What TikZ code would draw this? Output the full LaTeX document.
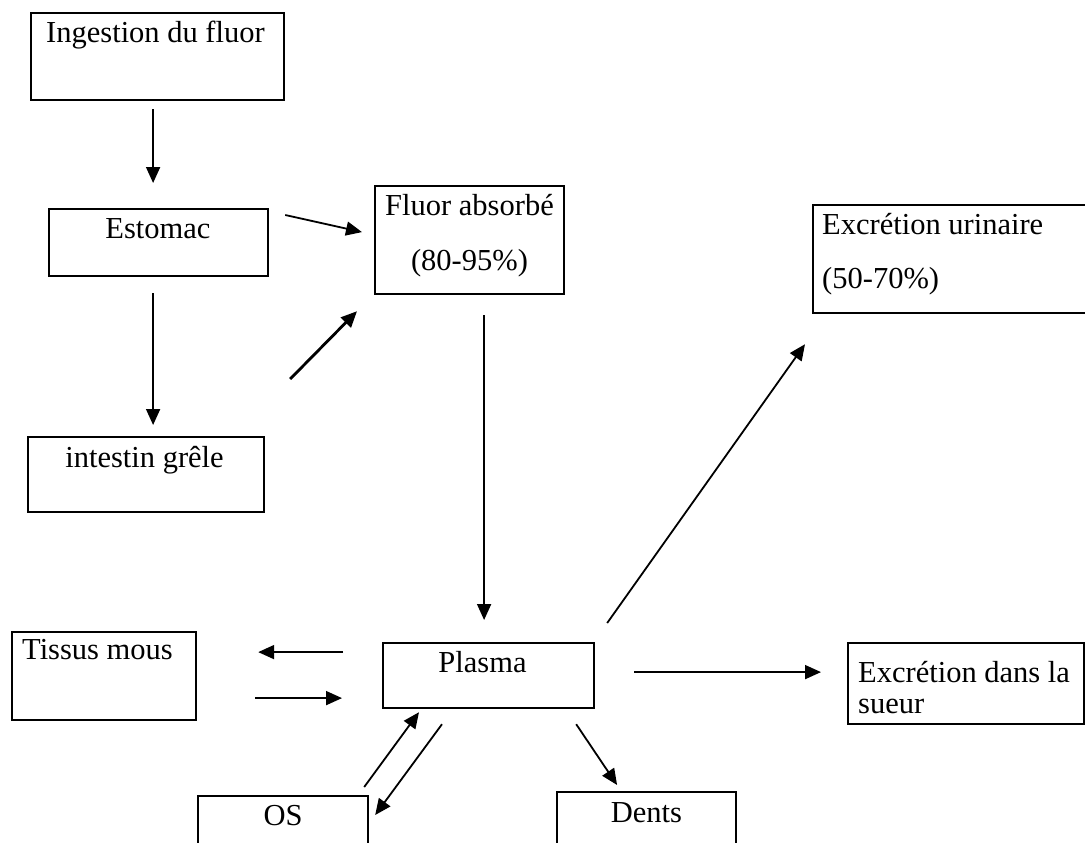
\documentclass[tikz,border=0pt]{standalone}
\usepackage{fontspec}
\setmainfont{Liberation Serif}
\usetikzlibrary{arrows.meta}
\tikzset{
    box/.style={draw, line width=2.2pt, inner sep=0pt, anchor=north west},
    lbl/.style={inner sep=0pt, font=\fontsize{30.5}{36}\selectfont},
    arr/.style={line width=1.8pt, -{Triangle[length=16pt, width=14pt]}},
}
\begin{document}
\begin{tikzpicture}[x=1pt, y=-1pt]
    \useasboundingbox (0, 0) rectangle (1085, 843) ;
    \clip (0, 0) rectangle (1085, 843) ;
    \node[box, minimum width=253pt, minimum height=87pt] (ing) at (30, 12) {} ;
    \node[box, minimum width=219pt, minimum height=67pt] (est) at (48, 208) {} ;
    \node[box, minimum width=189pt, minimum height=108pt] (flu) at (374, 185) {} ;
    \node[box, minimum width=278pt, minimum height=108pt] (uri) at (812, 204) {} ;
    \node[box, minimum width=236pt, minimum height=75pt] (int) at (27, 436) {} ;
    \node[box, minimum width=184pt, minimum height=88pt] (tis) at (11, 631) {} ;
    \node[box, minimum width=211pt, minimum height=65pt] (pla) at (382, 642) {} ;
    \node[box, minimum width=236pt, minimum height=81pt] (sue) at (847, 642) {} ;
    \node[box, minimum width=170pt, minimum height=80pt] (os) at (197, 795) {} ;
    \node[box, minimum width=179pt, minimum height=80pt] (den) at (556, 791) {} ;
    \node[lbl, anchor=base] (ingt) at (155.5, 43) {Ingestion du fluor} ;
    \node[lbl, anchor=base] (estt) at (158, 238) {Estomac} ;
    \node[lbl, anchor=base] (flut) at (469.5, 215) {Fluor absorbé} ;
    \node[lbl, anchor=base] (flup) at (469.5, 270) {(80-95\%)} ;
    \node[lbl, anchor=base west] (urit) at (822, 234) {Excrétion urinaire} ;
    \node[lbl, anchor=base west] (urip) at (822, 288) {(50-70\%)} ;
    \node[lbl, anchor=base] (intt) at (144.5, 467) {intestin grêle} ;
    \node[lbl, anchor=base west] (tist) at (22, 659) {Tissus mous} ;
    \node[lbl, anchor=base] (plat) at (482.5, 672) {Plasma} ;
    \node[lbl, anchor=base west] (suet) at (858, 682) {Excrétion dans la} ;
    \node[lbl, anchor=base west] (sues) at (858, 713) {sueur} ;
    \node[lbl, anchor=base] (ost) at (283, 825) {OS} ;
    \node[lbl, anchor=base] (dent) at (646.5, 822) {Dents} ;
    \draw[arr] ([shift={(-4.5, 8)}]ing.south) -- ([shift={(-5.5, -25)}]est.north) ;
    \draw[arr] ([shift={(16, 7)}]est.north east) -- ([shift={(-12, -8)}]flu.west) ;
    \draw[arr] ([shift={(-5.5, 16)}]est.south) -- ([shift={(7, -11)}]int.north) ;
    \draw[arr, line width=2.8pt] ([shift={(25, -57)}]int.north east) -- ([shift={(-17, 16)}]flu.south west) ;
    \draw[arr] ([shift={(14.5, 20)}]flu.south) -- ([shift={(-4.5, -22)}]pla.north) ;
    \draw[arr] ([shift={(12, -19)}]pla.north east) -- ([shift={(-7, 30)}]uri.south west) ;
    \draw[arr] ([shift={(-39, -23.5)}]pla.west) -- ([shift={(61, -24)}]tis.east) ;
    \draw[arr] ([shift={(58, 22)}]tis.east) -- ([shift={(-40, 22.5)}]pla.west) ;
    \draw[arr] ([shift={(39, -3.5)}]pla.east) -- ([shift={(-26, -11.5)}]sue.west) ;
    \draw[arr] ([shift={(-5, -8)}]os.north east) -- ([shift={(37, 3)}]pla.south west) ;
    \draw[arr] ([shift={(60, 15)}]pla.south west) -- ([shift={(6, 20)}]os.north east) ;
    \draw[arr] ([shift={(-19, 15)}]pla.south east) -- ([shift={(-29.5, -6)}]den.north) ;
\end{tikzpicture}
\end{document}
